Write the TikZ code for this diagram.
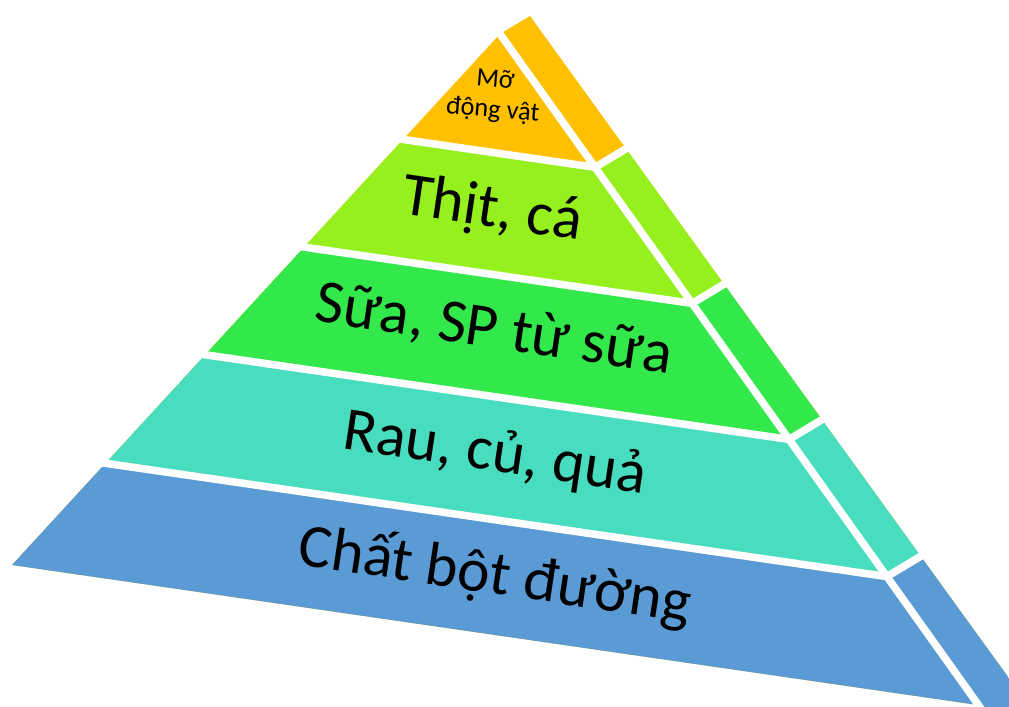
\documentclass[tikz,border=0pt]{standalone}
\usepackage{fontspec}
\setmainfont{Carlito}
\usetikzlibrary{calc}

\definecolor{cor_mo}{HTML}{FFC000}
\definecolor{cor_thit}{HTML}{95F01E}
\definecolor{cor_sua}{HTML}{33E84A}
\definecolor{cor_rau}{HTML}{48DDBE}
\definecolor{cor_bot}{HTML}{5B9BD5}

\begin{document}
\begin{tikzpicture}[x=0.02cm, y=-0.02cm]
        \tikzset{
            khe/.style={
                white,
                line width=0.15cm
            },
            rotulo/.style={
                font=\fontsize{35}{38}\selectfont,
                rotate=-8.5,
                inner sep=0pt
            }
        }
        \useasboundingbox (0,0) rectangle (1009,707);

        %cantos da piramide
        \coordinate (P) at (500,34);
        \coordinate (Q) at (530,16);
        \coordinate (L) at (12,565);
        \coordinate (B) at (978,705);
        \coordinate (S) at (1045,728);

        %pontos na aresta
        \coordinate (G1) at (595.1,167.3);
        \coordinate (G2) at (692.1,303.4);
        \coordinate (G3) at (789.1,439.4);
        \coordinate (G4) at (886.9,576.6);

        \begin{scope}
            \clip (P) -- (L) -- (B) -- (990,725) -- (S) -- (Q) -- cycle;
            \fill[cor_mo] (0,0) rectangle (1100,750);
            \fill[cor_thit] (-50,73.75) -- (G1) -- ++(100,-60) -- ($(G2)+(100,-60)$) -- (G2) -- (-50,195.75) -- cycle;
            \fill[cor_sua] (-50,195.75) -- (G2) -- ++(100,-60) -- ($(G3)+(100,-60)$) -- (G3) -- (-50,317.75) -- cycle;
            \fill[cor_rau] (-50,317.75) -- (G3) -- ++(100,-60) -- ($(G4)+(100,-60)$) -- (G4) -- (-50,440.75) -- cycle;
            \fill[cor_bot] (-50,440.75) -- (G4) -- ++(100,-60) -- (1300,900) -- (-50,900) -- cycle;
        \end{scope}

        %separacoes brancas
        \draw[khe] (475.8,0) -- (1003.4,740);
        \foreach \c/\g in {73.75/G1, 195.75/G2, 317.75/G3, 440.75/G4}
            \draw[khe] (-50,\c) -- (\g) -- ++(100,-60);

        \node[font=\fontsize{15}{17}\selectfont, align=center, rotate=-5, inner sep=0pt] (mo) at (494,96) {Mỡ\\động vật};
        \node[rotulo] (thit) at (492,211) {Thịt, cá};
        \node[rotulo] (sua) at (494,330) {Sữa, SP từ sữa};
        \node[rotulo] (rau) at (495,455) {Rau, củ, quả};
        \node[rotulo] (bot) at (495,576) {Chất bột đường};

\end{tikzpicture}
\end{document}
